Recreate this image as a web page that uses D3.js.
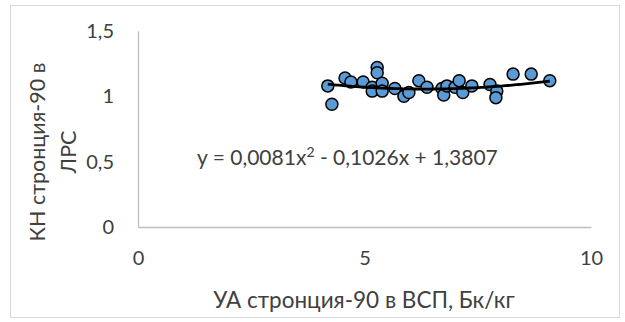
<!DOCTYPE html>
<html><head><meta charset="utf-8">
<script src="https://cdn.jsdelivr.net/npm/d3@7"></script>
<style>body{margin:0;background:#fff}svg{display:block}text{font-family:Lato,"Open Sans",sans-serif;fill:#404040}</style>
</head><body>
<script>
const xValues = [4.19,4.28,4.57,4.70,4.97,5.17,5.28,5.28,5.17,5.39,5.39,5.67,5.87,5.98,6.20,6.38,6.71,6.75,6.82,7.00,7.09,7.17,7.37,7.77,7.92,7.90,8.28,8.68,9.09];
const yValues = [1.08,0.94,1.14,1.11,1.11,1.07,1.22,1.18,1.04,1.10,1.04,1.06,1.00,1.03,1.12,1.07,1.06,1.01,1.08,1.07,1.12,1.03,1.08,1.09,1.04,0.99,1.17,1.17,1.12];
const xTicks = [0,5,10];
const yTicks = [0,0.5,1,1.5];
const trendCoef = [0.0081,-0.1026,1.3807];
const xTitle = "УА стронция-90 в ВСП, Бк/кг";
const yTitle = ["КН стронция-90 в","ЛРС"];

const W=625,H=322;
const svg=d3.select("body").append("svg").attr("width",W).attr("height",H);
svg.append("rect").attr("x",10.5).attr("y",5.5).attr("width",609).attr("height",312).attr("fill","#fff").attr("stroke","#d9d9d9");
const x=d3.scaleLinear().domain([0,10]).range([138,591]);
const y=d3.scaleLinear().domain([0,1.5]).range([227,31]);
const fmt=d=>String(d).replace(".",",");

const xa=svg.append("g").attr("transform","translate(0,227)").call(d3.axisBottom(x).tickValues(xTicks).tickSize(0).tickPadding(24).tickFormat(fmt));
xa.select(".domain").attr("stroke","#bfbfbf").attr("stroke-width",1.3);
xa.selectAll("text").attr("font-size",20).style("fill","#404040").attr("font-family","Lato");
const ya=svg.append("g").attr("transform","translate(138,0)").call(d3.axisLeft(y).tickValues(yTicks).tickSize(0).tickPadding(24).tickFormat(fmt));
ya.select(".domain").attr("stroke","#bfbfbf").attr("stroke-width",1.3);
ya.selectAll("text").attr("font-size",20).style("fill","#404040").attr("font-family","Lato");

const pts=xValues.map((v,i)=>({x:v,y:yValues[i]}));
svg.append("g").selectAll("circle").data(pts).join("circle")
  .attr("cx",d=>x(d.x)).attr("cy",d=>y(d.y)).attr("r",6)
  .attr("fill","#5b9bd5").attr("stroke","#000").attr("stroke-width",1.5);

const xmin=d3.min(xValues),xmax=d3.max(xValues);
const tr=d3.range(0,101).map(i=>{const t=xmin+(xmax-xmin)*i/100;return [t,trendCoef[0]*t*t+trendCoef[1]*t+trendCoef[2]];});
svg.append("path").datum(tr).attr("d",d3.line().x(d=>x(d[0])).y(d=>y(d[1])))
  .attr("fill","none").attr("stroke","#000").attr("stroke-width",2.8);

const eq=svg.append("text").attr("x",197).attr("y",165).attr("font-size",21);
eq.append("tspan").text("y = 0,0081x");
eq.append("tspan").attr("dy",-8).attr("font-size",14).text("2");
eq.append("tspan").attr("dy",8).text(" - 0,1026x + 1,3807");

svg.append("text").attr("x",364).attr("y",308).attr("text-anchor","middle").attr("font-size",22.5).text(xTitle);
const yt=svg.append("text").attr("transform","translate(37,152) rotate(-90)").attr("text-anchor","middle").attr("font-size",21.5);
yt.append("tspan").attr("x",0).attr("dy",7.5).text(yTitle[0]);
yt.append("tspan").attr("x",0).attr("dy",31).text(yTitle[1]);
</script>
</body></html>
